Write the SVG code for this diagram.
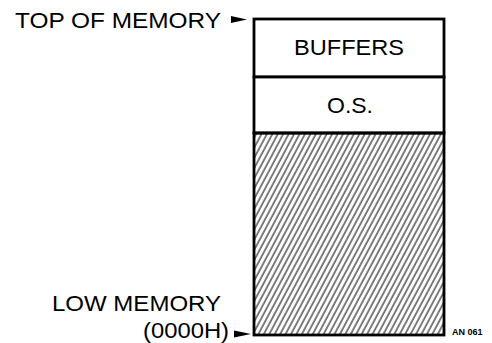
<svg xmlns="http://www.w3.org/2000/svg" width="492" height="343" viewBox="0 0 492 343">
<style>
.lbl{font-family:"Liberation Sans",Arial,sans-serif;font-size:22px;fill:#000}
.small{font-family:"Liberation Sans",Arial,sans-serif;font-size:9px;font-weight:bold;fill:#000}
.box{fill:#fff;stroke:#000;stroke-width:2.8}
.ptr{fill:#000}
</style>
<defs>
<pattern id="hatch" width="4.8" height="10" patternUnits="userSpaceOnUse" patternTransform="rotate(28)">
<line x1="1" y1="0" x2="1" y2="10" stroke="#000" stroke-width="1"/>
</pattern>
</defs>
<rect width="492" height="343" fill="#fff"/>
<g id="buffers">
<rect class="box" x="254" y="19" width="190" height="58"/>
<text class="lbl" x="349" y="55" text-anchor="middle" textLength="110" lengthAdjust="spacingAndGlyphs">BUFFERS</text>
</g>
<g id="os">
<rect class="box" x="254" y="77" width="190" height="56"/>
<text class="lbl" x="350" y="113" text-anchor="middle" textLength="46" lengthAdjust="spacingAndGlyphs">O.S.</text>
</g>
<g id="free">
<rect x="254" y="133" width="190" height="202" fill="url(#hatch)" stroke="#000" stroke-width="2.8"/>
</g>
<g id="top-label">
<text class="lbl" x="15" y="28" textLength="206" lengthAdjust="spacingAndGlyphs">TOP OF MEMORY</text>
</g>
<g id="low-label">
<text class="lbl" x="52" y="311" textLength="169" lengthAdjust="spacingAndGlyphs">LOW MEMORY</text>
<text class="lbl" x="143" y="338" textLength="86" lengthAdjust="spacingAndGlyphs">(0000H)</text>
</g>
<g id="connectors">
<polygon class="ptr" points="231,16 247,19.5 231,23"/>
<polygon class="ptr" points="234,330.5 251,334 234,337.5"/>
</g>
<g id="ref">
<text class="small" x="452" y="335">AN 061</text>
</g>
</svg>
